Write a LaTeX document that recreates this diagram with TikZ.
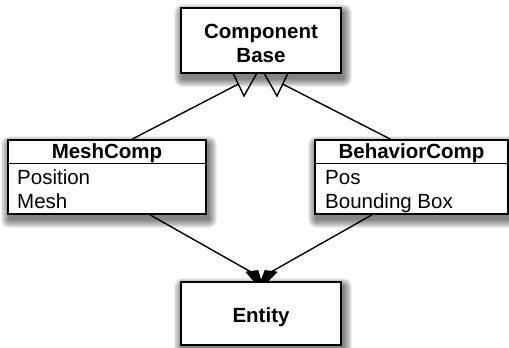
\documentclass[tikz,border=0pt]{standalone}
\usepackage{fontspec}
\setmainfont{Liberation Sans}
\usetikzlibrary{backgrounds}
\begin{document}
\begin{tikzpicture}[x=1pt,y=-1pt,
  box/.style={draw=black, line width=1.6pt, fill=white, inner sep=0pt},
  lbl/.style={inner sep=0pt, font=\fontsize{20.5}{24}\selectfont},
  hdr/.style={inner sep=0pt, font=\fontsize{20.5}{24}\selectfont\bfseries},
  conn/.style={line width=1.4pt, black},
  wedge/.style={fill=black, draw=black, line width=0.8pt, line join=round},
  shadowlayer/.style={fill=black, opacity=0.07},
]
\useasboundingbox (0,0) rectangle (509,348);

% class boxes
\node[box, minimum width=160pt, minimum height=65pt] (cb) at (261,40.5) {};
\node[box, minimum width=198pt, minimum height=74pt] (mesh) at (107,177) {};
\node[box, minimum width=193pt, minimum height=74pt] (beh) at (411.5,177) {};
\node[box, minimum width=160pt, minimum height=63pt] (ent) at (261,313.5) {};

% soft drop shadows, stacked translucent rectangles behind each box
\begin{scope}[on background layer]
  \foreach \n in {cb,mesh,beh,ent}{
    \foreach \r in {0,1,...,8}{
      \fill[shadowlayer, rounded corners=\r pt]
        ([shift={(2-\r,5-\r)}]\n.north west) rectangle ([shift={(2+\r,5+\r)}]\n.south east);
    }
  }
\end{scope}

% compartment separators
\draw[line width=1.4pt] ([yshift=-24pt]mesh.north west) -- ([yshift=-24pt]mesh.north east);
\draw[line width=1.4pt] ([yshift=-24pt]beh.north west) -- ([yshift=-24pt]beh.north east);

% labels
\node[hdr, anchor=base] (cbT1) at (261,38) {Component};
\node[hdr, anchor=base] (cbT2) at (261,62) {Base};
\node[hdr, anchor=base] (meshH) at (107,158) {MeshComp};
\node[lbl, anchor=base west] (meshA) at (17,184) {Position};
\node[lbl, anchor=base west] (meshB) at (17,208) {Mesh};
\node[hdr, anchor=base] (behH) at (411.5,158) {BehaviorComp};
\node[lbl, anchor=base west] (behA) at (325,184) {Pos};
\node[lbl, anchor=base west] (behB) at (325,208) {Bounding Box};
\node[hdr, anchor=base] (entT) at (261,322) {Entity};

% generalization heads under the base class
\coordinate (tlA) at (233,73);
\coordinate (tlB) at (244,96);
\coordinate (tlC) at (257,73);
\coordinate (trA) at (264,73);
\coordinate (trB) at (277,96);
\coordinate (trC) at (288,73);
\coordinate (inhL) at (238.3,84.1);
\coordinate (inhR) at (282.7,84.1);
\draw[conn, line join=miter] (tlA) -- (tlB) -- (tlC);
\draw[conn, line join=miter] (trA) -- (trB) -- (trC);
\draw[conn] ([xshift=25pt]mesh.north) -- (inhL);
\draw[conn] ([xshift=-21pt]beh.north) -- (inhR);

% composition heads on the entity
\coordinate (cmpL) at (251,272);
\coordinate (cmpR) at (271,272);
\draw[conn] ([xshift=43pt]mesh.south) -- (cmpL);
\draw[conn] ([xshift=-39.5pt]beh.south) -- (cmpR);
\filldraw[wedge] (246,272) -- (258,270.5) -- (261,281) -- (254,281) -- cycle;
\filldraw[wedge] (265,270.5) -- (277,272) -- (268,281) -- (261,281) -- cycle;
\end{tikzpicture}
\end{document}
